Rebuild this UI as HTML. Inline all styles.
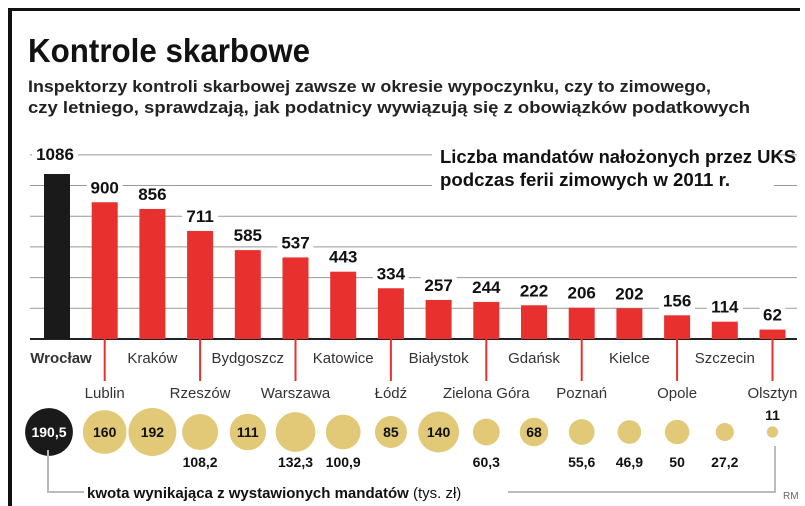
<!DOCTYPE html>
<html><head><meta charset="utf-8">
<style>
body{margin:0;background:#fff;}
svg{display:block;}
text{font-family:"Liberation Sans Narrow","Liberation Sans",sans-serif;}
</style></head>
<body>
<svg id="chart" width="805" height="506" viewBox="0 0 805 506">
  <rect x="0" y="0" width="805" height="506" fill="#fff"/>
  <rect x="8" y="8" width="4" height="498" fill="#111"/>
  <rect x="8" y="8" width="792" height="3" fill="#111"/>
  <text x="28" y="62" font-size="33" font-weight="bold" fill="#111" textLength="282" lengthAdjust="spacingAndGlyphs">Kontrole skarbowe</text>
  <text x="28" y="92" font-size="17" font-weight="bold" fill="#222" textLength="683" lengthAdjust="spacingAndGlyphs">Inspektorzy kontroli skarbowej zawsze w okresie wypoczynku, czy to zimowego,</text>
  <text x="28" y="113" font-size="17" font-weight="bold" fill="#222" textLength="722" lengthAdjust="spacingAndGlyphs">czy letniego, sprawdzają, jak podatnicy wywiązują się z obowiązków podatkowych</text>
  <g id="grid"></g>
  <g id="bars"></g>
  <g id="labels"></g>
  <g id="bubbles"></g>
  <g id="legendBox">
    <rect x="432" y="143" width="342" height="46" fill="#fff"/>
    <text x="440" y="163" font-size="18" font-weight="bold" fill="#111" textLength="356" lengthAdjust="spacingAndGlyphs">Liczba mandatów nałożonych przez UKS</text>
    <text x="440" y="186" font-size="18" font-weight="bold" fill="#111" textLength="290" lengthAdjust="spacingAndGlyphs">podczas ferii zimowych w 2011 r.</text>
  </g>
  <path d="M48 450 V492 H84 M508 492 H775 V446" fill="none" stroke="#bbb" stroke-width="2"/>
  <text x="87" y="498" font-size="15" fill="#111"><tspan font-weight="bold">kwota wynikająca z wystawionych mandatów</tspan> (tys. zł)</text>
  <text x="783" y="499" font-size="10" fill="#666">RM</text>
</svg>
<script>
const cities=["Wrocław","Lublin","Kraków","Rzeszów","Bydgoszcz","Warszawa","Katowice","Łódź","Białystok","Zielona Góra","Gdańsk","Poznań","Kielce","Opole","Szczecin","Olsztyn"];
const counts=[1086,900,856,711,585,537,443,334,257,244,222,206,202,156,114,62];
const amounts=[190.5,160,192,108.2,111,132.3,100.9,85,140,60.3,68,55.6,46.9,50,27.2,11];
const amountLabels=["190,5","160","192","108,2","111","132,3","100,9","85","140","60,3","68","55,6","46,9","50","27,2","11"];
const gridValues=[202,404,606,808,1010,1212];

const NS="http://www.w3.org/2000/svg";
const baseY=339, kY=165/1086;
const y=v=>baseY-v*kY;
const xc=i=>57+i*47.7;
const bw=26;
function mk(tag,attrs,parent){const e=document.createElementNS(NS,tag);for(const k in attrs)e.setAttribute(k,attrs[k]);parent.appendChild(e);return e;}
const g=document.getElementById('grid'),b=document.getElementById('bars'),l=document.getElementById('labels'),bu=document.getElementById('bubbles');

gridValues.forEach(v=>{
  const ln=mk('line',{x1:30,x2:797,y1:y(v),y2:y(v),stroke:'#999','stroke-width':1},g);
  
  
});
const base=mk('line',{x1:30,x2:797,y1:baseY,y2:baseY,stroke:'#222','stroke-width':2},g);



counts.forEach((v,i)=>{
  const r=mk('rect',{x:xc(i)-bw/2,y:y(v),width:bw,height:v*kY,fill:i===0?'#1a1a1a':'#e8312f'},b);
  
  
  const ty=i===0?y(v)-14:y(v)-9;
  const tx=i===0?xc(i)-2:xc(i);
  const bbw=String(v).length*10+6;
  mk('rect',{x:tx-bbw/2,y:ty-14,width:bbw,height:17,fill:'#fff'},l);
  const t=mk('text',{x:tx,y:ty,'text-anchor':'middle','font-size':17,'font-weight':'bold',fill:'#111'},l);
  t.textContent=v;
  
  
  const odd=i%2===1;
  if(odd){
    const tk=mk('line',{x1:xc(i),x2:xc(i),y1:baseY,y2:381,stroke:'#e8312f','stroke-width':2},l);
    
    
  }
  const ct=mk('text',{x:xc(i)+(i===0?4:0),y:odd?398:363,'text-anchor':'middle','font-size':15,fill:'#333','font-weight':i===0?'bold':'normal'},l);
  ct.textContent=cities[i];
  
  
});

const bubY=432,kR=1.73;
amounts.forEach((v,i)=>{
  const r=kR*Math.sqrt(v);
  const cx=xc(i)-(i===0?8:0);
  const c=mk('circle',{cx:cx,cy:bubY,r:r,fill:i===0?'#1a1a1a':'#e2c978'},bu);
  
  
  const inside=[0,1,2,4,7,8,10].includes(i);
  const ty=inside?bubY+5:(i===15?bubY-12:467);
  const t=mk('text',{x:cx,y:ty,'text-anchor':'middle','font-size':14,'font-weight':'bold',fill:i===0?'#fff':'#111'},bu);
  t.textContent=amountLabels[i];
  
  
});
</script>
</body></html>
